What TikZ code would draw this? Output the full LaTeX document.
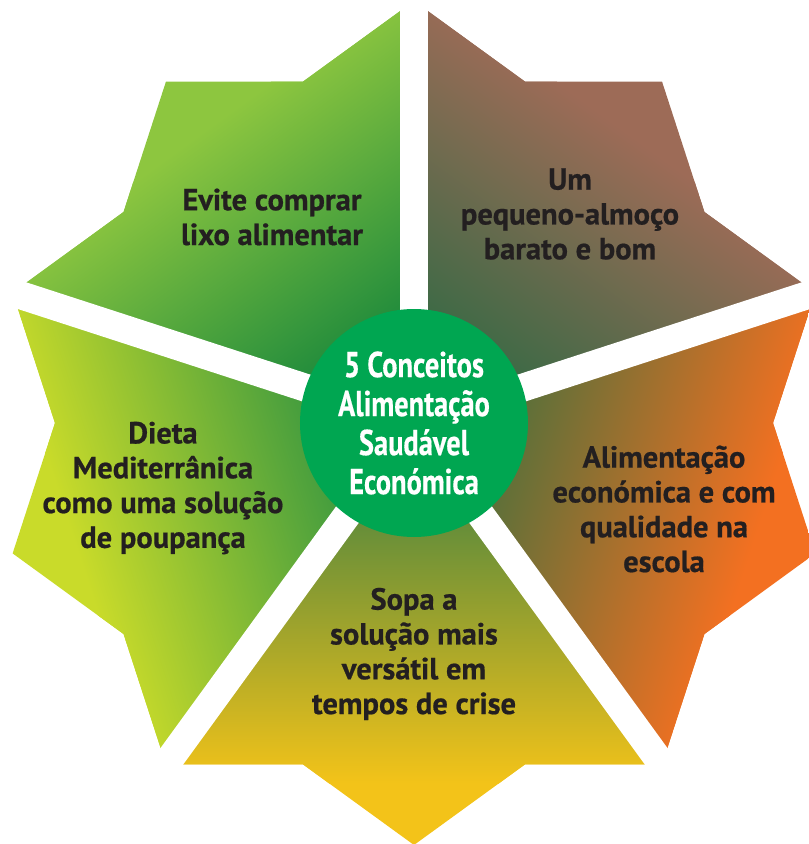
\documentclass[tikz,border=0pt]{standalone}
\usepackage{fontspec}
\setmainfont{PT Sans}
\newfontfamily\ideafont[FakeBold=0.6]{PT Sans}
\newfontfamily\condfont[FakeStretch=0.79, FakeBold=0.4]{PT Sans}
\definecolor{textdark}{HTML}{231F20}
\definecolor{hubgreen}{HTML}{00A651}
\definecolor{junkout}{HTML}{8DC63F}
\definecolor{junkin}{HTML}{1E8A3C}
\definecolor{breakout}{HTML}{9D6B57}
\definecolor{breakin}{HTML}{3A6A45}
\definecolor{schoolout}{HTML}{F37021}
\definecolor{schoolin}{HTML}{56703A}
\definecolor{soupout}{HTML}{F3C319}
\definecolor{soupin}{HTML}{5E8B3B}
\definecolor{dietout}{HTML}{C9DB2A}
\definecolor{dietin}{HTML}{3E9A3F}
\tikzstyle{idea} = [text=textdark, align=center, inner sep=0pt, font=\ideafont\fontsize{30.5}{34.8}\selectfont\bfseries]
\tikzstyle{hubbox} = [circle, fill=hubgreen, minimum size=228pt, inner sep=0pt, text=white, align=center, font=\condfont\fontsize{36}{39}\selectfont\bfseries]
\tikzstyle{gap} = [white, line width=28pt]
% one point of the star, turned to angle #1
\newcommand{\petal}[3]{
  \begin{scope}[transform canvas={rotate=#1}]
    \clip (0,0) -- (-36:700) -- (0:700) -- (36:700) -- cycle;
    \clip (0:422) \foreach \a in {36,72,...,360} {-- (\a-18:359) -- (\a:422)} -- cycle;
    \fill[#3] (0,-440) rectangle (440,440);
    \shade[left color=#2, right color=#3] (85,-440) rectangle (360,440);
  \end{scope}}

\begin{document}
\begin{tikzpicture}[x=1pt, y=1pt]
    \useasboundingbox (-414,-421) rectangle (395,423);
    \clip (-414,-421) rectangle (395,423);

    \petal{126}{junkin}{junkout}
    \petal{54}{breakin}{breakout}
    \petal{-18}{schoolin}{schoolout}
    \petal{-90}{soupin}{soupout}
    \petal{-162}{dietin}{dietout}

    \foreach \a in {90,18,-54,-126,162}
        \draw[gap] (0,0) -- (\a:460);

    \node (hub) [hubbox] at (0,0) {5 Conceitos\\Alimentação\\Saudável\\Económica};

    \node (junk) [idea] at (-142,206) {Evite comprar\\lixo alimentar};
    \node (breakfast) [idea] at (156,209) {Um\\pequeno-almoço\\barato e bom};
    \node (diet) [idea] at (-251,-65) {Dieta\\Mediterrânica\\como uma solução\\de poupança};
    \node (school) [idea] at (250,-86) {Alimentação\\económica e com\\qualidade na\\escola};
    \node (soup) [idea] at (0,-231) {Sopa a\\solução mais\\versátil em\\tempos de crise};

\end{tikzpicture}
\end{document}
